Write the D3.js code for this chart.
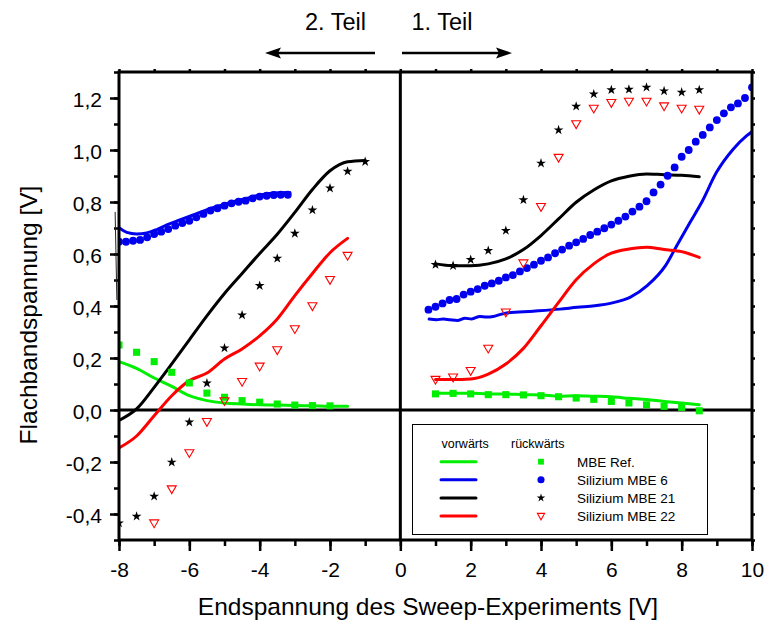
<!DOCTYPE html>
<html><head><meta charset="utf-8">
<script src="https://cdn.jsdelivr.net/npm/d3@7"></script>
<style>html,body{margin:0;padding:0;background:#fff;} svg{display:block;font-family:"Liberation Sans",Arial,sans-serif;}</style>
</head><body>
<svg id="c" width="769" height="627"></svg>
<script>
// ---------- data ----------
const xMajorTicks = [-8,-6,-4,-2,0,2,4,6,8,10];
const xMinorTicks = [-8,-7,-6,-5,-4,-3,-2,-1,0,1,2,3,4,5,6,7,8,9,10];
const yMajorTicks = [-0.4,-0.2,0,0.2,0.4,0.6,0.8,1.0,1.2];
const yMinorTicks = [-0.5,-0.4,-0.3,-0.2,-0.1,0,0.1,0.2,0.3,0.4,0.5,0.6,0.7,0.8,0.9,1.0,1.1,1.2,1.3];

const seriesNames = ["MBE Ref.","Silizium MBE 6","Silizium MBE 21","Silizium MBE 22"];
const seriesColors = ["#00ee00","#0000ee","#000000","#ff0000"];

// Part 1 (right half), x grid of the sweep
const xRight = [1,1.5,2,2.5,3,3.5,4,4.5,5,5.5,6,6.5,7,7.5,8,8.5];
const greenFwdRight = [0.064,0.064,0.064,0.062,0.062,0.059,0.058,0.053,0.055,0.053,0.051,0.045,0.040,0.033,0.027,0.020];
const greenBwdRight = [0.062,0.064,0.062,0.059,0.059,0.058,0.055,0.051,0.046,0.041,0.033,0.027,0.020,0.014,0.010,-0.003];
const blackFwdRight = [0.562,0.555,0.555,0.562,0.581,0.617,0.671,0.735,0.799,0.846,0.881,0.899,0.908,0.905,0.903,0.897];
const blackBwdRight = [0.559,0.555,0.578,0.613,0.690,0.808,0.949,1.077,1.168,1.215,1.231,1.233,1.241,1.227,1.222,1.231];
const redFwdRight = [0.117,0.117,0.119,0.138,0.177,0.237,0.324,0.414,0.501,0.562,0.603,0.619,0.626,0.617,0.609,0.587];
const redBwdRight = [0.117,0.126,0.151,0.237,0.376,0.565,0.782,0.971,1.100,1.160,1.182,1.187,1.187,1.169,1.160,1.156];

const blueFwdRightX = [0.82,1.03,1.22,1.41,1.62,1.84,2.03,2.26,2.45,2.64,2.83,3.02,3.78,4.54,5.03,5.53,6.03,6.53,7.02,7.54,7.86,8.24,8.57,8.99,9.47,9.85,10.03];
const blueFwdRightY = [0.350,0.347,0.350,0.347,0.344,0.353,0.350,0.360,0.358,0.360,0.367,0.373,0.380,0.388,0.395,0.401,0.412,0.433,0.478,0.555,0.632,0.722,0.799,0.914,1.004,1.055,1.074];

const blueBwdRightX = [0.8,1.0,1.2,1.4,1.6,1.8,2.0,2.2,2.4,2.6,2.8,3.0,3.2,3.4,3.6,3.8,4.0,4.2,4.4,4.6,4.8,5.0,5.2,5.4,5.6,5.8,6.0,6.2,6.4,6.6,6.8,7.0,7.2,7.4,7.6,7.8,8.0,8.2,8.4,8.6,8.8,9.0,9.2,9.4,9.6,9.8,10.0];
const blueBwdRightY = [0.386,0.397,0.410,0.423,0.427,0.444,0.455,0.465,0.478,0.487,0.497,0.510,0.519,0.533,0.546,0.559,0.574,0.587,0.603,0.617,0.632,0.645,0.658,0.673,0.686,0.699,0.713,0.728,0.744,0.763,0.782,0.803,0.837,0.867,0.901,0.933,0.974,1.000,1.032,1.058,1.087,1.115,1.141,1.164,1.179,1.200,1.241];

// Part 2 (left half)
const xLeftFwd = [-8,-7.5,-7,-6.5,-6,-5.5,-5,-4.5,-4,-3.5,-3,-2.5,-2,-1.5];
const greenFwdLeft = [0.186,0.160,0.123,0.091,0.055,0.036,0.027,0.023,0.020,0.019,0.017,0.016,0.014,0.014];
const redFwdLeft = [-0.146,-0.100,-0.022,0.055,0.113,0.142,0.196,0.235,0.285,0.350,0.440,0.525,0.605,0.660];
const xBlackFwdLeft = [-8,-7.5,-7,-6.5,-6,-5.5,-5,-4.5,-4,-3.5,-3,-2.5,-2,-1.5,-1];
const blackFwdLeft = [-0.040,0.004,0.087,0.177,0.270,0.362,0.448,0.525,0.602,0.676,0.760,0.848,0.920,0.955,0.960];

const xGreenBwdLeft = [-8,-7.5,-7,-6.5,-6,-5.5,-5,-4.5,-4,-3.5,-3,-2.5,-2];
const greenBwdLeft = [0.250,0.222,0.186,0.145,0.104,0.065,0.049,0.036,0.030,0.023,0.019,0.017,0.016];
const xBlackBwdLeft = [-8,-7.5,-7,-6.5,-6,-5.5,-5,-4.5,-4,-3.5,-3,-2.5,-2,-1.5,-1];
const blackBwdLeft = [-0.435,-0.409,-0.332,-0.201,-0.047,0.103,0.238,0.365,0.478,0.583,0.679,0.769,0.853,0.918,0.955];
const xRedBwdLeft = [-7.5,-7,-6.5,-6,-5.5,-5,-4.5,-4,-3.5,-3,-2.5,-2,-1.5];
const redBwdLeft = [-0.512,-0.435,-0.304,-0.165,-0.045,0.035,0.109,0.168,0.231,0.312,0.400,0.501,0.594];

const blueFwdLeftX = [-8.02,-7.78,-7.50,-7.21,-6.93,-6.64,-6.27,-5.89,-5.51,-5.13,-4.75,-4.37,-3.99,-3.61,-3.23,-3.14];
const blueFwdLeftY = [0.703,0.683,0.677,0.681,0.694,0.712,0.731,0.750,0.770,0.786,0.801,0.814,0.827,0.835,0.837,0.837];
const blueBwdLeftX = [-8.0,-7.8,-7.6,-7.4,-7.2,-7.0,-6.8,-6.6,-6.4,-6.2,-6.0,-5.8,-5.6,-5.4,-5.2,-5.0,-4.8,-4.6,-4.4,-4.2,-4.0,-3.8,-3.6,-3.4,-3.2];
const blueBwdLeftY = [0.647,0.647,0.651,0.654,0.664,0.677,0.686,0.696,0.709,0.719,0.728,0.741,0.754,0.767,0.776,0.786,0.795,0.801,0.805,0.814,0.821,0.824,0.827,0.828,0.828];
// thin spike at the start of the sweep
const spikeX = [-8.11,-8.06];
const spikeY = [0.762,0.423];

// ---------- chart ----------
const svg = d3.select("#c");
const L = 119, R = 752, T = 72, B = 540;
const x = d3.scaleLinear([-8,10],[L,R]);
const y = d3.scaleLinear([-0.5,1.3],[B,T]);
const zip = (xs,ys)=>xs.map((v,i)=>[v,ys[i]]);
const fmtY = v => v.toFixed(1).replace(".",",");
const font = '"Liberation Sans",Arial,sans-serif';

svg.append("defs").append("clipPath").attr("id","plot")
  .append("rect").attr("x",L).attr("y",T).attr("width",R-L).attr("height",B-T);

function styleAxis(g){
  g.select(".domain").remove();
  g.selectAll(".tick line").attr("stroke","#000").attr("stroke-width",2.5);
  g.selectAll(".tick text").attr("fill","#000").style("font-family",font).style("font-size","21px");
}
svg.append("g").attr("transform",`translate(0,${B})`)
  .call(d3.axisBottom(x).tickValues(xMinorTicks).tickSize(6).tickFormat(""))
  .call(styleAxis);
svg.append("g").attr("transform",`translate(0,${B})`)
  .call(d3.axisBottom(x).tickValues(xMajorTicks).tickSize(11).tickPadding(11).tickFormat(d=>String(d)))
  .call(styleAxis);
svg.append("g").attr("transform",`translate(${L},0)`)
  .call(d3.axisLeft(y).tickValues(yMinorTicks).tickSize(5).tickFormat(""))
  .call(styleAxis);
const yAx = svg.append("g").attr("transform",`translate(${L},0)`)
  .call(d3.axisLeft(y).tickValues(yMajorTicks).tickSize(9).tickPadding(8).tickFormat(fmtY))
  .call(styleAxis);
yAx.selectAll(".tick text").attr("dy","0.4em");
svg.append("g").attr("transform",`translate(0,${T})`)
  .call(d3.axisTop(x).tickValues(xMinorTicks).tickSize(3).tickFormat(""))
  .call(styleAxis);
svg.append("g").attr("transform",`translate(${R},0)`)
  .call(d3.axisRight(y).tickValues(yMinorTicks).tickSize(3).tickFormat(""))
  .call(styleAxis);

// zero lines
svg.append("line").attr("x1",x(0)).attr("x2",x(0)).attr("y1",T).attr("y2",B)
  .attr("stroke","#000").attr("stroke-width",3);
svg.append("line").attr("x1",L).attr("x2",R).attr("y1",y(0)).attr("y2",y(0))
  .attr("stroke","#000").attr("stroke-width",3);

// data
const plot = svg.append("g").attr("clip-path","url(#plot)");
const line = d3.line().x(d=>x(d[0])).y(d=>y(d[1])).curve(d3.curveMonotoneX);
function drawLine(pts,color){
  plot.append("path").datum(pts).attr("d",line).attr("fill","none")
    .attr("stroke",color).attr("stroke-width",3).attr("stroke-linejoin","round").attr("stroke-linecap","round");
}
drawLine(zip(xRight,greenFwdRight),seriesColors[0]);
drawLine(zip(xLeftFwd,greenFwdLeft),seriesColors[0]);
drawLine(zip(blueFwdRightX,blueFwdRightY),seriesColors[1]);
drawLine(zip(blueFwdLeftX,blueFwdLeftY),seriesColors[1]);
drawLine(zip(xRight,blackFwdRight),seriesColors[2]);
drawLine(zip(xBlackFwdLeft,blackFwdLeft),seriesColors[2]);
drawLine(zip(xRight,redFwdRight),seriesColors[3]);
drawLine(zip(xLeftFwd,redFwdLeft),seriesColors[3]);

svg.append("path").datum(zip(spikeX,spikeY))
  .attr("d",d3.line().x(d=>x(d[0])).y(d=>y(d[1])))
  .attr("fill","none").attr("stroke","#222").attr("stroke-width",1);

const triDown = "M-4.5,-3.2L4.5,-3.2L0,4.6Z";
function drawMarkers(pts,kind){
  const g = plot.append("g");
  const s = g.selectAll("path").data(pts).join("path")
    .attr("transform",d=>`translate(${x(d[0])},${y(d[1])})`);
  if(kind===0) s.attr("d",d3.symbol().type(d3.symbolSquare).size(50)()).attr("fill",seriesColors[0]);
  if(kind===1) s.attr("d",d3.symbol().type(d3.symbolCircle).size(48)()).attr("fill",seriesColors[1]);
  if(kind===2) s.attr("d",d3.symbol().type(d3.symbolStar).size(30)()).attr("fill",seriesColors[2]);
  if(kind===3) s.attr("d",triDown).attr("fill","none").attr("stroke",seriesColors[3]).attr("stroke-width",1.1);
}
drawMarkers(zip(xRight,greenBwdRight),0);
drawMarkers(zip(xGreenBwdLeft,greenBwdLeft),0);
drawMarkers(zip(blueBwdRightX,blueBwdRightY),1);
drawMarkers(zip(blueBwdLeftX,blueBwdLeftY),1);
drawMarkers(zip(xRight,blackBwdRight),2);
drawMarkers(zip(xBlackBwdLeft,blackBwdLeft),2);
drawMarkers(zip(xRight,redBwdRight),3);
drawMarkers(zip(xRedBwdLeft,redBwdLeft),3);

// frame
svg.append("rect").attr("x",L).attr("y",T).attr("width",R-L).attr("height",B-T)
  .attr("fill","none").attr("stroke","#000").attr("stroke-width",3);

// legend
const lg = svg.append("g");
lg.append("rect").attr("x",412.5).attr("y",424.5).attr("width",295).attr("height",110)
  .attr("fill","#fff").attr("stroke","#000").attr("stroke-width",1);
lg.append("text").attr("x",441.5).attr("y",448).text("vorwärts")
  .style("font-size","12.5px").attr("fill","#000");
lg.append("text").attr("x",511).attr("y",448).text("rückwärts")
  .style("font-size","12.5px").attr("fill","#000");
seriesNames.forEach((n,i)=>{
  const cy = 461.7 + i*18.1;
  lg.append("line").attr("x1",441).attr("x2",476).attr("y1",cy).attr("y2",cy)
    .attr("stroke",seriesColors[i]).attr("stroke-width",3).attr("stroke-linecap","round");
  const m = lg.append("path").attr("transform",`translate(541,${cy})`);
  if(i===0) m.attr("d",d3.symbol().type(d3.symbolSquare).size(34)()).attr("fill",seriesColors[0]);
  if(i===1) m.attr("d",d3.symbol().type(d3.symbolCircle).size(40)()).attr("fill",seriesColors[1]);
  if(i===2) m.attr("d",d3.symbol().type(d3.symbolStar).size(22)()).attr("fill",seriesColors[2]);
  if(i===3) m.attr("d","M-3.6,-2.6L3.6,-2.6L0,3.8Z").attr("fill","none").attr("stroke",seriesColors[3]).attr("stroke-width",1.1);
  lg.append("text").attr("x",577).attr("y",cy+5).text(n)
    .style("font-size","13.5px").attr("fill","#000");
});

// axis titles
svg.append("text").attr("x",428).attr("y",615).attr("text-anchor","middle")
  .style("font-size","24.5px").attr("fill","#000").text("Endspannung des Sweep-Experiments [V]");
svg.append("text").attr("transform","translate(36.5,315) rotate(-90)").attr("text-anchor","middle")
  .style("font-size","24.5px").attr("fill","#000").text("Flachbandspannung [V]");

// top annotations
svg.append("text").attr("x",305).attr("y",30).style("font-size","23.5px").attr("fill","#000").text("2. Teil");
svg.append("text").attr("x",411.5).attr("y",30).style("font-size","23.5px").attr("fill","#000").text("1. Teil");
const ar = svg.append("g").attr("stroke","#000").attr("fill","#000");
ar.append("line").attr("x1",375).attr("x2",276).attr("y1",53).attr("y2",53).attr("stroke-width",2.6);
ar.append("path").attr("d","M265,53L281,47.5L278,53L281,58.5Z").attr("stroke","none");
ar.append("line").attr("x1",402).attr("x2",501).attr("y1",53).attr("y2",53).attr("stroke-width",2.6);
ar.append("path").attr("d","M512,53L496,47.5L499,53L496,58.5Z").attr("stroke","none");
</script>
</body></html>
